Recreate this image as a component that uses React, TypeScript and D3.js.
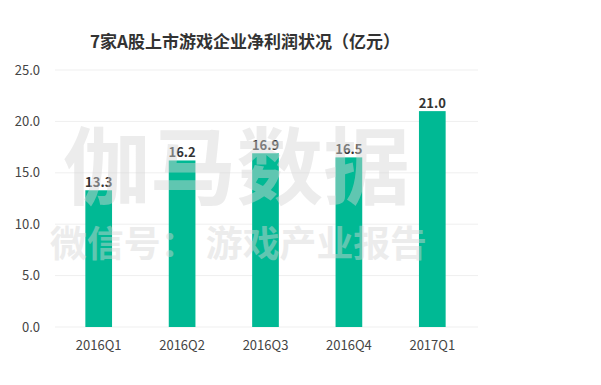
import React from "react";
import * as d3 from "d3";

const categories = ["2016Q1", "2016Q2", "2016Q3", "2016Q4", "2017Q1"];
const profits = [13.3, 16.2, 16.9, 16.5, 21.0];
const yTicks = [0, 5, 10, 15, 20, 25];
const titleText = "7家A股上市游戏企业净利润状况（亿元）";
const watermarkMain = "伽马数据";
const watermarkSub = "微信号： 游戏产业报告";

const W = 601;
const H = 385;
const FONT = "'Noto Sans CJK SC', 'Noto Sans', sans-serif";

export default function App() {
  const x = d3.scaleBand<string>().domain(categories).range([57, 474]).paddingInner(0.68).paddingOuter(0.34);
  const y = d3.scaleLinear().domain([0, 25]).range([327, 70]);
  const bw = x.bandwidth();

  return (
    <svg width={W} height={H} style={{ position: "absolute", left: 0, top: 0, background: "#fff" }}>
      <rect x={0} y={0} width={W} height={H} fill="#fff" />
      <text x={245} y={48} textAnchor="middle" fontFamily={FONT} fontWeight="bold" fontSize={17} fill="#333">
        {titleText}
      </text>
      {yTicks.map((t) => (
        <g key={t}>
          <line x1={55} x2={478} y1={y(t)} y2={y(t)} stroke="#efefef" strokeWidth={1} />
          <text x={40} y={y(t) + 4.5} textAnchor="end" fontFamily={FONT} fontSize={13} fill="#444">
            {t.toFixed(1)}
          </text>
        </g>
      ))}
      {categories.map((c, i) => (
        <g key={c}>
          <rect x={x(c)!} y={y(profits[i])} width={bw} height={y(0) - y(profits[i])} fill="#00b994" />
          <text x={x(c)! + bw / 2} y={y(profits[i]) - 3} textAnchor="middle" fontFamily={FONT} fontWeight="bold" fontSize={13} fill="#333">
            {profits[i].toFixed(1)}
          </text>
          <text x={x(c)! + bw / 2} y={350} textAnchor="middle" fontFamily={FONT} fontSize={13} fill="#444">
            {c}
          </text>
        </g>
      ))}
      <g opacity={0.45} fill="#d6d6d6" fontFamily={FONT} fontWeight="bold">
        <text x={63} y={198} fontSize={84} textLength={347} lengthAdjust="spacingAndGlyphs">
          {watermarkMain}
        </text>
        <text x={50} y={257} fontSize={36} textLength={377} lengthAdjust="spacingAndGlyphs">
          {watermarkSub}
        </text>
      </g>
    </svg>
  );
}
